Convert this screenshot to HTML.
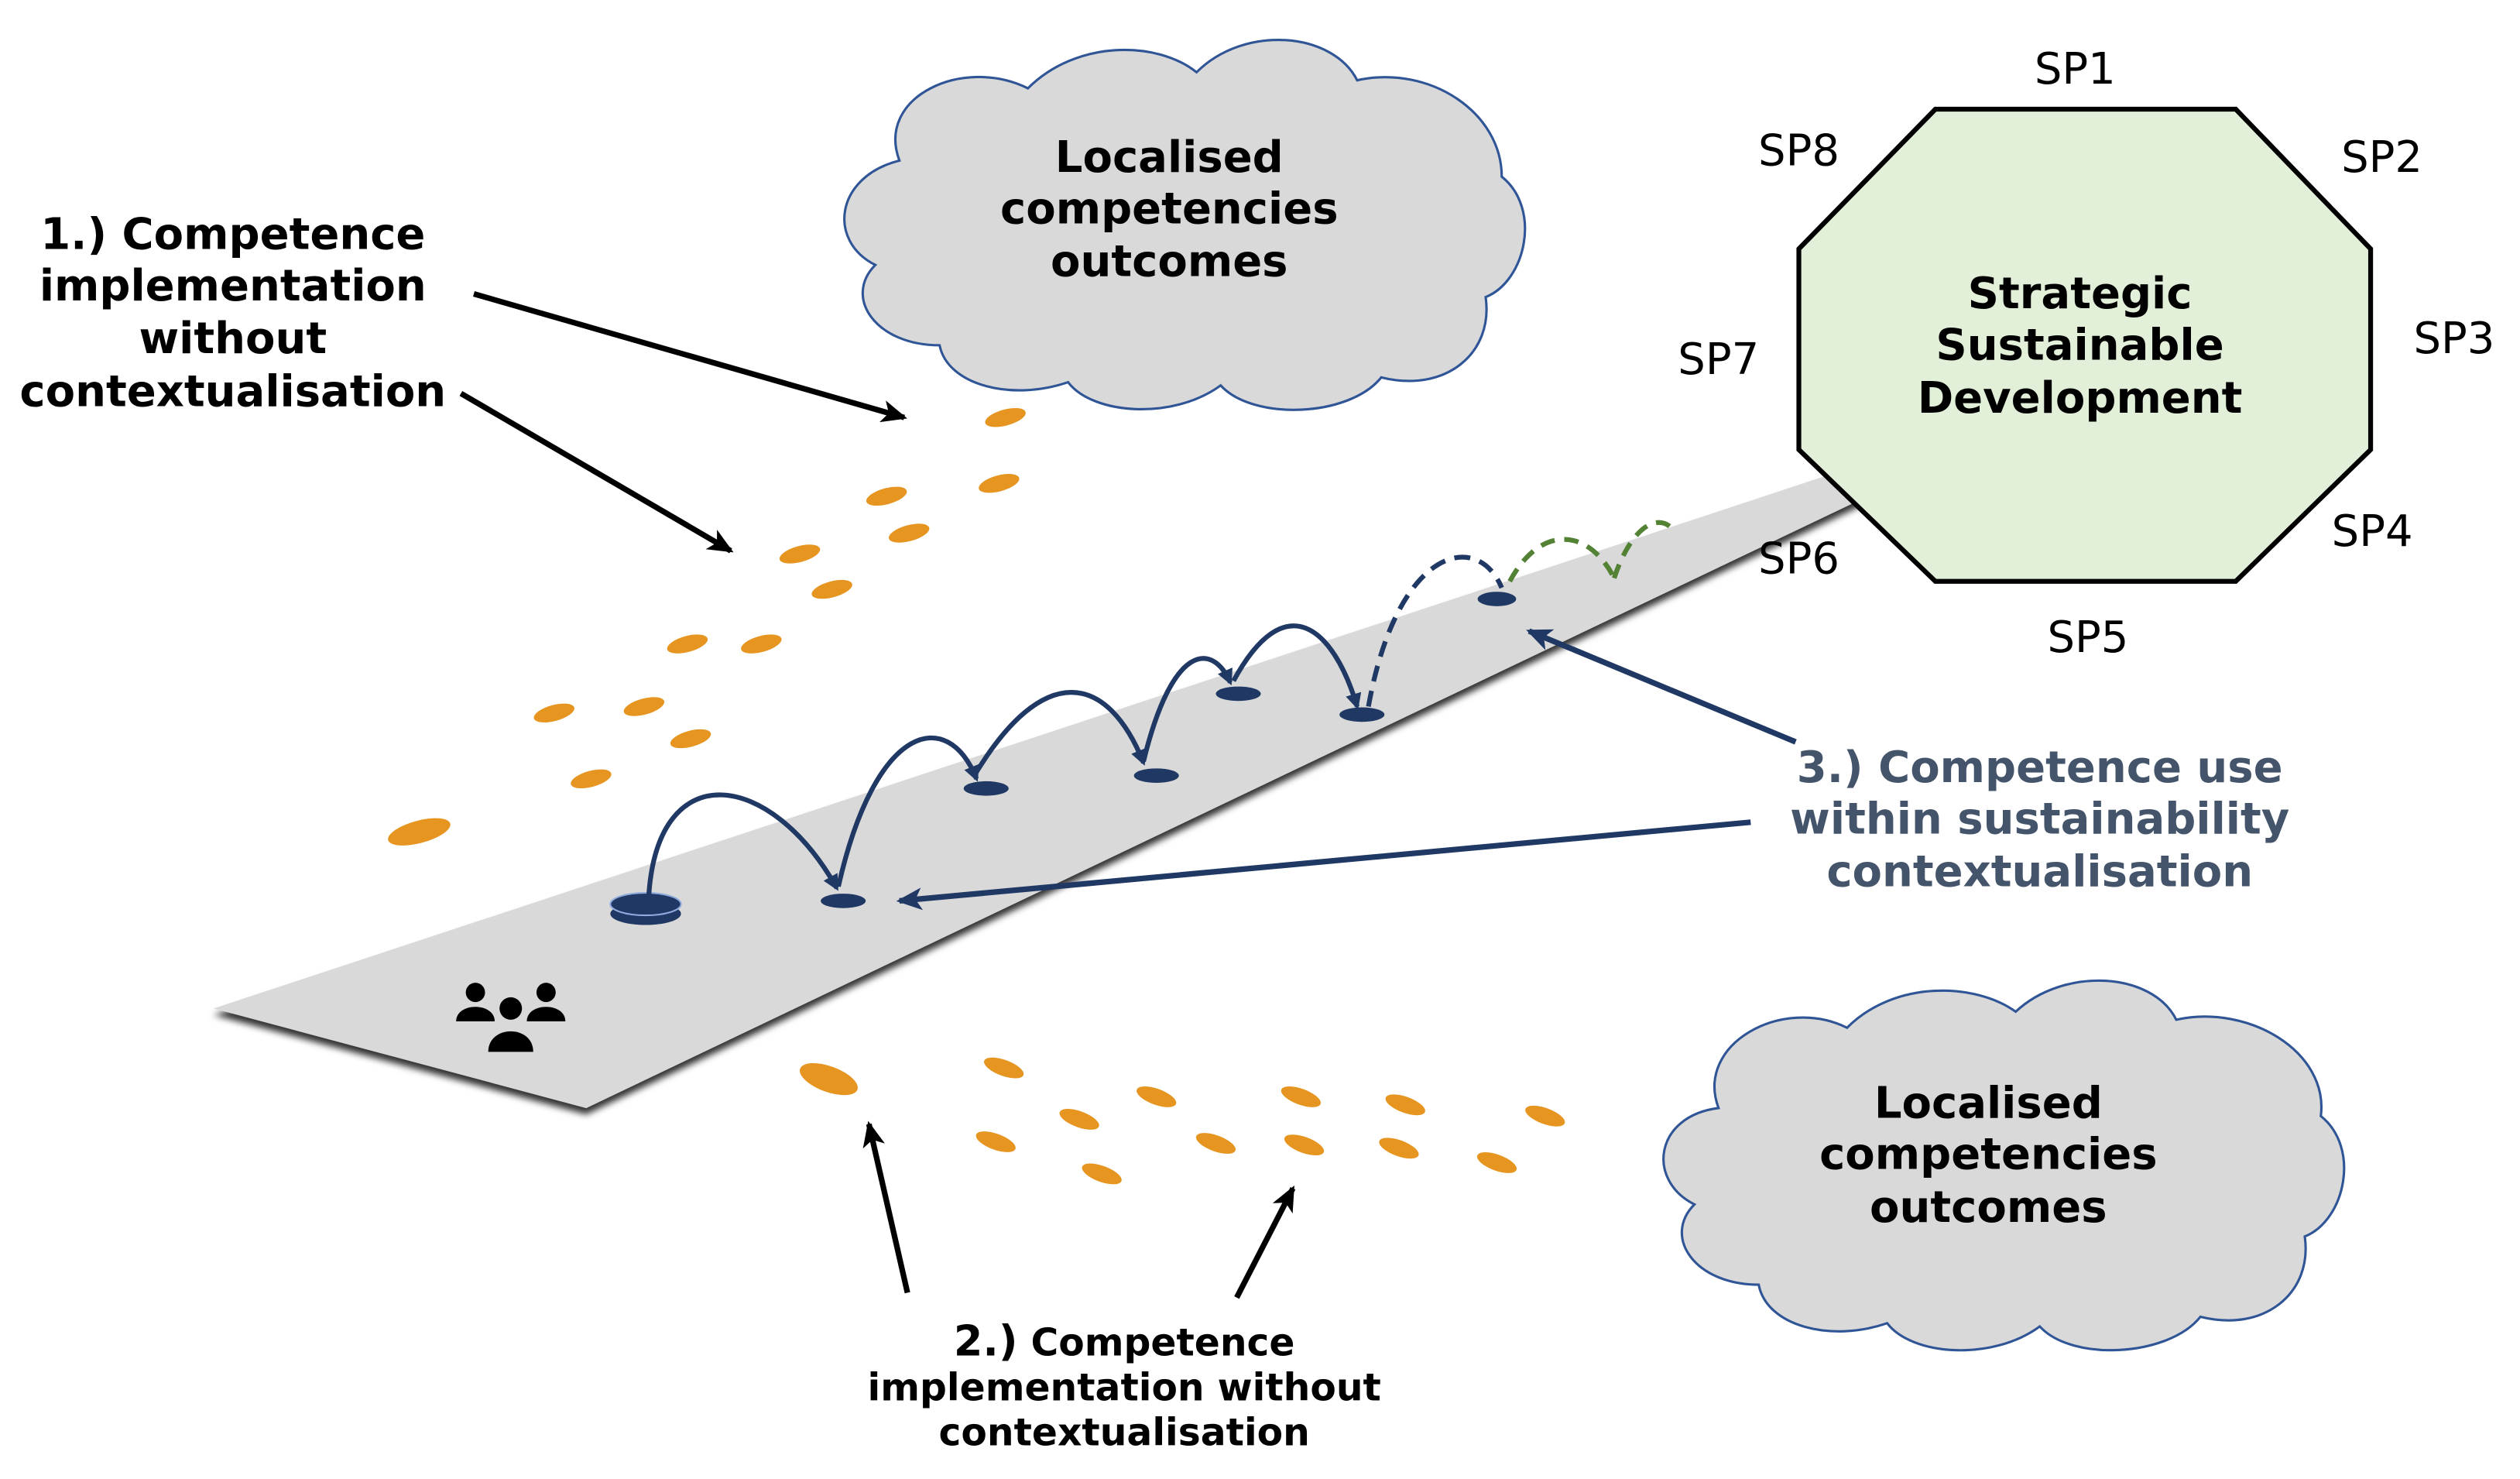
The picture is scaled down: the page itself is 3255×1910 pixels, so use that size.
<!DOCTYPE html>
<html><head><meta charset="utf-8"><style>
html,body{margin:0;padding:0;background:#fff}
svg{display:block}
text{font-family:"DejaVu Sans","Liberation Sans",sans-serif}
</style></head><body>
<svg width="3255" height="1910" viewBox="0 0 1569 921" preserveAspectRatio="none" xmlns="http://www.w3.org/2000/svg">
<defs>
<marker id="ak" markerWidth="16" markerHeight="14" refX="14" refY="7" orient="auto" markerUnits="userSpaceOnUse"><path d="M0,0 L16,7 L0,14 L4,7 z" fill="#000"/></marker>
<marker id="an" markerWidth="16" markerHeight="14" refX="14" refY="7" orient="auto" markerUnits="userSpaceOnUse"><path d="M0,0 L16,7 L0,14 L4,7 z" fill="#1f3864"/></marker>
<marker id="as" markerWidth="10" markerHeight="10" refX="8" refY="5" orient="auto" markerUnits="userSpaceOnUse"><path d="M0,0 L10,5 L0,10 z" fill="#1f3864"/></marker>
<filter id="sh" x="-5%" y="-5%" width="110%" height="120%"><feDropShadow dx="0" dy="4" stdDeviation="2" flood-color="#000" flood-opacity="0.8"/></filter>
</defs>

<polygon points="133,628 1150,292 1165,308 365,690" fill="#d9d9d9" filter="url(#sh)"/>

<g fill="#d9d9d9" stroke="#2f5597" stroke-width="1.5">
<path d="M560,100 C545,60 600,35 640,55 C670,25 720,25 745,45 C775,15 830,20 845,50 C890,40 935,70 935,110 C960,130 950,175 925,185 C930,220 900,245 860,235 C840,260 780,262 760,240 C730,262 680,258 665,238 C630,250 590,240 585,215 C545,215 525,185 545,165 C515,150 520,110 560,100 Z"/>
<path d="M1070,690 C1055,650 1110,620 1150,640 C1180,610 1230,612 1255,630 C1285,602 1340,605 1355,635 C1400,625 1450,655 1445,695 C1470,715 1460,760 1435,770 C1440,805 1410,830 1370,820 C1350,845 1290,848 1270,826 C1240,848 1190,844 1175,824 C1140,836 1100,826 1095,800 C1055,800 1035,770 1055,750 C1025,735 1030,695 1070,690 Z"/>
</g>
<g font-weight="bold" font-size="27" text-anchor="middle" fill="#000">
<text x="728" y="107">Localised</text><text x="728" y="139">competencies</text><text x="728" y="172">outcomes</text>
<text x="1238" y="696">Localised</text><text x="1238" y="728">competencies</text><text x="1238" y="761">outcomes</text>
</g>

<polygon points="1205,68 1392,68 1476,155 1476,280 1392,362 1205,362 1120,280 1120,155" fill="#e2efd9" stroke="#000" stroke-width="3"/>
<g font-weight="bold" font-size="27" text-anchor="middle">
<text x="1295" y="192">Strategic</text><text x="1295" y="224">Sustainable</text><text x="1295" y="257">Development</text>
</g>
<g font-size="27" text-anchor="middle" font-family="Liberation Sans">
<text x="1292" y="52">SP1</text><text x="1483" y="107">SP2</text><text x="1528" y="220">SP3</text><text x="1477" y="340">SP4</text>
<text x="1300" y="406">SP5</text><text x="1120" y="357">SP6</text><text x="1070" y="233">SP7</text><text x="1120" y="103">SP8</text>
</g>

<g fill="#e69520">
<ellipse cx="626" cy="260" rx="13" ry="5" transform="rotate(-15 626 260)"/>
<ellipse cx="622" cy="301" rx="13" ry="5" transform="rotate(-15 622 301)"/>
<ellipse cx="552" cy="309" rx="13" ry="5" transform="rotate(-15 552 309)"/>
<ellipse cx="566" cy="332" rx="13" ry="5" transform="rotate(-15 566 332)"/>
<ellipse cx="498" cy="345" rx="13" ry="5" transform="rotate(-15 498 345)"/>
<ellipse cx="518" cy="367" rx="13" ry="5" transform="rotate(-15 518 367)"/>
<ellipse cx="428" cy="401" rx="13" ry="5" transform="rotate(-15 428 401)"/>
<ellipse cx="474" cy="401" rx="13" ry="5" transform="rotate(-15 474 401)"/>
<ellipse cx="345" cy="444" rx="13" ry="5" transform="rotate(-15 345 444)"/>
<ellipse cx="401" cy="440" rx="13" ry="5" transform="rotate(-15 401 440)"/>
<ellipse cx="430" cy="460" rx="13" ry="5" transform="rotate(-15 430 460)"/>
<ellipse cx="368" cy="485" rx="13" ry="5" transform="rotate(-15 368 485)"/>
<ellipse cx="261" cy="518" rx="20" ry="7" transform="rotate(-15 261 518)"/>
<ellipse cx="516" cy="672" rx="19" ry="8" transform="rotate(20 516 672)"/>
<ellipse cx="625" cy="665" rx="13" ry="5" transform="rotate(20 625 665)"/>
<ellipse cx="672" cy="697" rx="13" ry="5" transform="rotate(20 672 697)"/>
<ellipse cx="720" cy="683" rx="13" ry="5" transform="rotate(20 720 683)"/>
<ellipse cx="620" cy="711" rx="13" ry="5" transform="rotate(20 620 711)"/>
<ellipse cx="686" cy="731" rx="13" ry="5" transform="rotate(20 686 731)"/>
<ellipse cx="757" cy="712" rx="13" ry="5" transform="rotate(20 757 712)"/>
<ellipse cx="810" cy="683" rx="13" ry="5" transform="rotate(20 810 683)"/>
<ellipse cx="812" cy="713" rx="13" ry="5" transform="rotate(20 812 713)"/>
<ellipse cx="875" cy="688" rx="13" ry="5" transform="rotate(20 875 688)"/>
<ellipse cx="871" cy="715" rx="13" ry="5" transform="rotate(20 871 715)"/>
<ellipse cx="932" cy="724" rx="13" ry="5" transform="rotate(20 932 724)"/>
<ellipse cx="962" cy="695" rx="13" ry="5" transform="rotate(20 962 695)"/>
</g>

<g fill="#1f3864">
<ellipse cx="402" cy="569" rx="22" ry="7"/>
<ellipse cx="402" cy="563" rx="22" ry="7" stroke="#8faadc" stroke-width="1"/>
<ellipse cx="525" cy="561" rx="14" ry="4.5"/>
<ellipse cx="614" cy="491" rx="14" ry="4.5"/>
<ellipse cx="720" cy="483" rx="14" ry="4.5"/>
<ellipse cx="771" cy="432" rx="14" ry="4.5"/>
<ellipse cx="848" cy="445" rx="14" ry="4.5"/>
<ellipse cx="932" cy="373" rx="12" ry="4.5"/>
</g>
<g fill="none" stroke="#1f3864" stroke-width="3">
<path d="M404,557 C410,470 480,480 521,553" marker-end="url(#as)"/>
<path d="M522,552 C545,450 590,440 608,485" marker-end="url(#as)"/>
<path d="M606,484 C650,410 690,420 712,475" marker-end="url(#as)"/>
<path d="M712,474 C730,400 755,400 766,425" marker-end="url(#as)"/>
<path d="M768,424 C800,365 830,390 845,440" marker-end="url(#as)"/>
<path d="M852,440 C870,340 920,330 935,366" stroke-dasharray="10,6"/>
</g>
<g fill="none" stroke="#548235" stroke-width="3" stroke-dasharray="9,6">
<path d="M940,362 C960,325 990,330 1005,360"/>
<path d="M1005,360 C1015,330 1030,320 1040,328"/>
</g>

<g fill="#000">
<circle cx="296" cy="618" r="6"/><path d="M284,636 C284,624 308,624 308,636 Z"/>
<circle cx="340" cy="618" r="6"/><path d="M328,636 C328,624 352,624 352,636 Z"/>
<circle cx="318" cy="628" r="7"/><path d="M304,655 C304,638 332,638 332,655 Z"/>
</g>

<g font-weight="bold" font-size="27" text-anchor="middle">
<text x="145" y="155">1.) Competence</text><text x="145" y="187">implementation</text>
<text x="145" y="220">without</text><text x="145" y="253">contextualisation</text>
</g>
<g stroke="#000" stroke-width="3.5" fill="none">
<line x1="295" y1="183" x2="563" y2="260" marker-end="url(#ak)"/>
<line x1="287" y1="245" x2="455" y2="343" marker-end="url(#ak)"/>
<line x1="565" y1="805" x2="541" y2="700" marker-end="url(#ak)"/>
<line x1="770" y1="808" x2="805" y2="740" marker-end="url(#ak)"/>
</g>

<g font-weight="bold" text-anchor="middle" font-size="23.5">
<text x="700" y="844"><tspan font-size="26">2.)</tspan> Competence</text>
<text x="700" y="872">implementation without</text>
<text x="700" y="900">contextualisation</text>
</g>

<g font-weight="bold" font-size="27" text-anchor="middle" fill="#44546a">
<text x="1270" y="487">3.) Competence use</text>
<text x="1270" y="519">within sustainability</text>
<text x="1270" y="552">contextualisation</text>
</g>
<g stroke="#1f3864" stroke-width="3.5" fill="none">
<line x1="1118" y1="462" x2="952" y2="393" marker-end="url(#an)"/>
<line x1="1090" y1="512" x2="560" y2="561" marker-end="url(#an)"/>
</g>
</svg>
</body></html>
